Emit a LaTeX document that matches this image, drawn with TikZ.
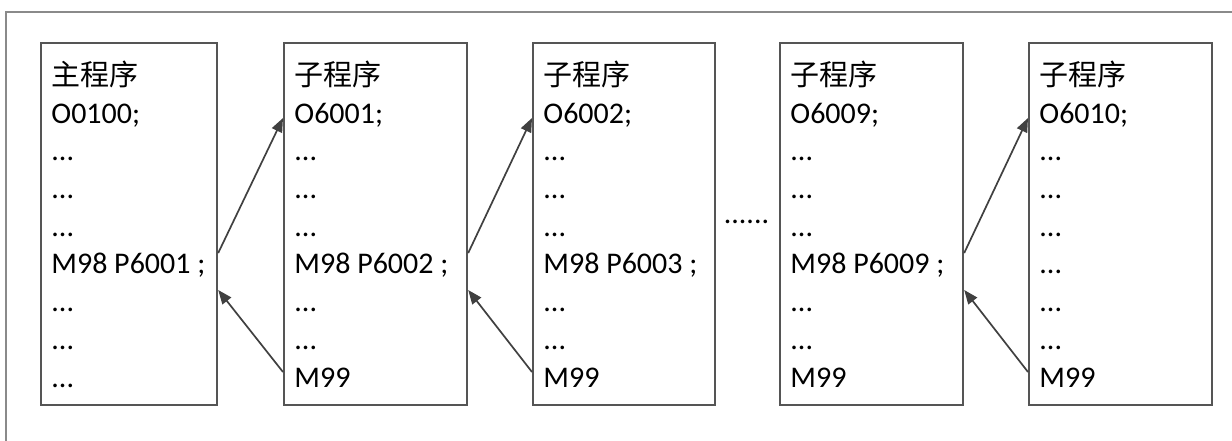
\documentclass[tikz,border=0pt]{standalone}
\usepackage{fontspec}
\setmainfont{Carlito}
\newfontfamily\cjkfont{Noto Sans CJK SC}
\usetikzlibrary{arrows.meta}
\definecolor{prgframe}{HTML}{8A8A8A}
\definecolor{prgline}{HTML}{555555}
\definecolor{prgarrow}{HTML}{404040}
\newcommand\prgdots{...}
\tikzset{
  prgblock/.style={
    draw=prgline, line width=1.1pt, minimum height=181pt, inner sep=0pt,
    anchor=north west},
  prgtext/.style={
    anchor=base west, inner sep=0pt, text=black,
    font=\fontsize{15pt}{18pt}\selectfont},
  prghead/.style={prgtext, font=\fontsize{14.5pt}{18pt}\selectfont\cjkfont},
  prgcall/.style={-{Triangle[length=7pt, width=5.5pt]}, draw=prgarrow,
    line width=0.85pt},
}

\begin{document}
\begin{tikzpicture}[x=0.5pt, y=-0.5pt]
\useasboundingbox (0, 0) rectangle (1232, 440);

% Outer frame, only its top and left edges fall inside the page.
\draw[prgframe, line width=0.7pt] (1240, 12) -| (6, 450);

% One block per program: title, number, then the body lines.
\foreach \b/\lx/\bw/\head/\prog/\call/\last in {
    1/40/176/主程序/O0100;/M98 P6001 ;/\prgdots,
    2/283/183/子程序/O6001;/M98 P6002 ;/M99,
    3/532/182/子程序/O6002;/M98 P6003 ;/M99,
    4/779/183/子程序/O6009;/M98 P6009 ;/M99,
    5/1028/183/子程序/O6010;/\prgdots/M99} {
  \node[prgblock, minimum width=\bw*0.5pt] (b\b) at (\lx, 42) {};
  \node[prghead] (t\b-1) at (\lx+11, 85) {\head};
  \node[prgtext] (t\b-2) at (\lx+11, 123) {\prog};
  \foreach \i in {3,4,5,7,8} {
    \node[prgtext] (t\b-\i) at (\lx+11, {85+37.75*(\i-1)}) {\prgdots};
  }
  \node[prgtext] (t\b-6) at (\lx+11, 273.75) {\call};
  \node[prgtext] (t\b-9) at (\lx+11, 387) {\last};
}

% Skipped programs between O6002 and O6009.
\node[prgtext, anchor=base] (gap) at (746.5, 223) {......};

% Call into the next program, and the M99 return below it.
\foreach \b/\n in {1/2, 2/3, 4/5} {
  \draw[prgcall] ([yshift=-105.5pt]b\b.north east)
    -- ([yshift=-38pt]b\n.north west);
  \draw[prgcall] ([yshift=-165pt]b\n.north west)
    -- ([yshift=-124pt]b\b.north east);
}

\end{tikzpicture}
\end{document}
